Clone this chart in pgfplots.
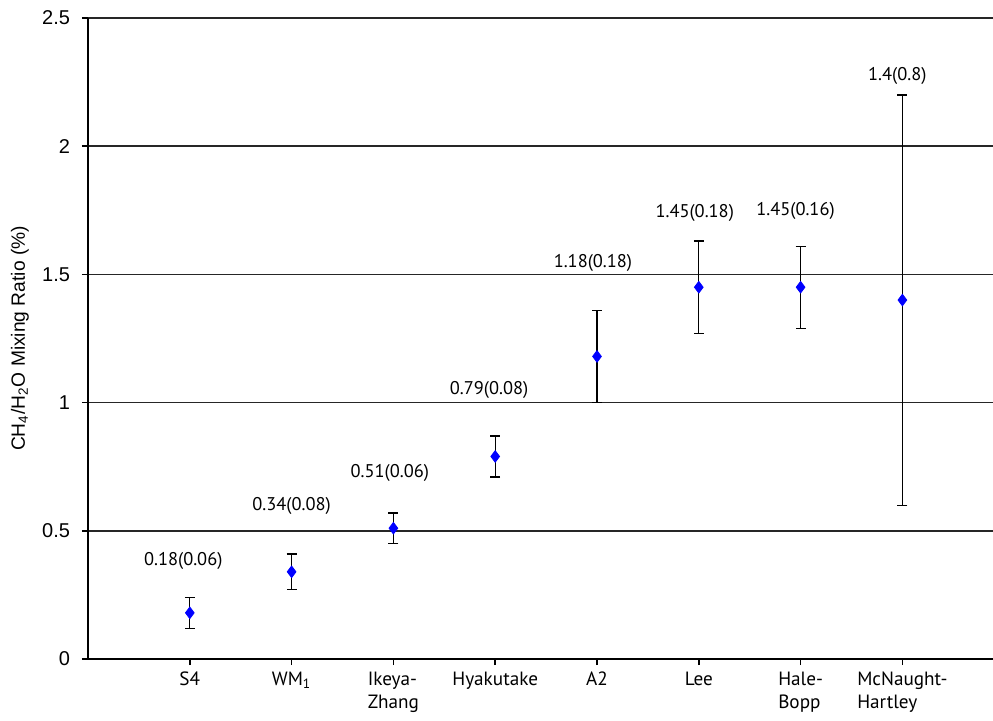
\documentclass[border=0pt]{standalone}
\usepackage{pgfplots}
\usepackage{pgfplotstable}
\pgfplotsset{compat=1.18}
\usepackage{fontspec}
\setmainfont{Liberation Sans}
\newfontfamily\labelfont{PT Sans}

% CH4/H2O mixing ratio per comet: value and 1-sigma uncertainty
\pgfplotstableread{
x y err
1 0.18 0.06
2 0.34 0.07
3 0.51 0.06
4 0.79 0.08
5 1.18 0.18
6 1.45 0.18
7 1.45 0.16
8 1.40 0.80
}\ratios

\begin{document}
\begin{tikzpicture}
\begin{axis}[
  scale only axis,
  width=452.5bp, height=320.5bp,
  xmin=0, xmax=8.89, ymin=0, ymax=2.5,
  axis lines*=left,
  axis line style={black, line width=0.8bp},
  xtick={1,2,3,4,5,6,7,8},
  xticklabels={S4, WM\textsubscript{1}, Ikeya-\\Zhang, Hyakutake, A2, Lee, Hale-\\Bopp, McNaught-\\Hartley},
  xticklabel style={font=\labelfont\fontsize{9.6bp}{11.5bp}\selectfont, align=left, anchor=north},
  ytick={0,0.5,1,1.5,2,2.5},
  yticklabel style={font=\fontsize{10bp}{12bp}\selectfont, xshift=-2.5bp},
  /pgf/number format/assume math mode=true,
  ymajorgrids,
  grid style={black!85, line width=0.85bp},
  tick align=outside,
  major tick length=3bp,
  tick style={black, line width=0.8bp},
  ylabel={CH\textsubscript{4}/H\textsubscript{2}O Mixing Ratio (\%)},
  ylabel style={at={(axis description cs:-0.0751,0.5)}, anchor=center, font=\fontsize{9.6bp}{11bp}\selectfont},
  clip=false,
]
\addplot[only marks, mark=diamond*, mark size=2.9bp, color=blue,
  mark options={fill=blue, draw=blue},
  error bars/.cd, y dir=both, y explicit,
  error bar style={black, line width=0.65bp},
  error mark options={rotate=90, mark size=2.5bp, black, line width=0.65bp}]
  table[x=x, y=y, y error=err]{\ratios};

% value(uncertainty) annotations
\begin{scope}[every node/.style={font=\labelfont\fontsize{9.2bp}{10bp}\selectfont, inner sep=0pt}]
\node at (axis cs:0.936,0.383) {0.18(0.06)};
\node at (axis cs:2.0,0.598) {0.34(0.08)};
\node at (axis cs:2.965,0.724) {0.51(0.06)};
\node at (axis cs:3.94,1.05) {0.79(0.08)};
\node at (axis cs:4.96,1.545) {1.18(0.18)};
\node at (axis cs:5.96,1.74) {1.45(0.18)};
\node at (axis cs:6.95,1.746) {1.45(0.16)};
\node at (axis cs:7.95,2.272) {1.4(0.8)};
\end{scope}

\coordinate (bbsw) at (rel axis cs:0,0);
\coordinate (bbne) at (rel axis cs:1,1);
\end{axis}
\pgfresetboundingbox
\path ([shift={(-44bp,-31bp)}]bbsw) rectangle ([shift={(0bp,9bp)}]bbne);
\end{tikzpicture}
\end{document}
